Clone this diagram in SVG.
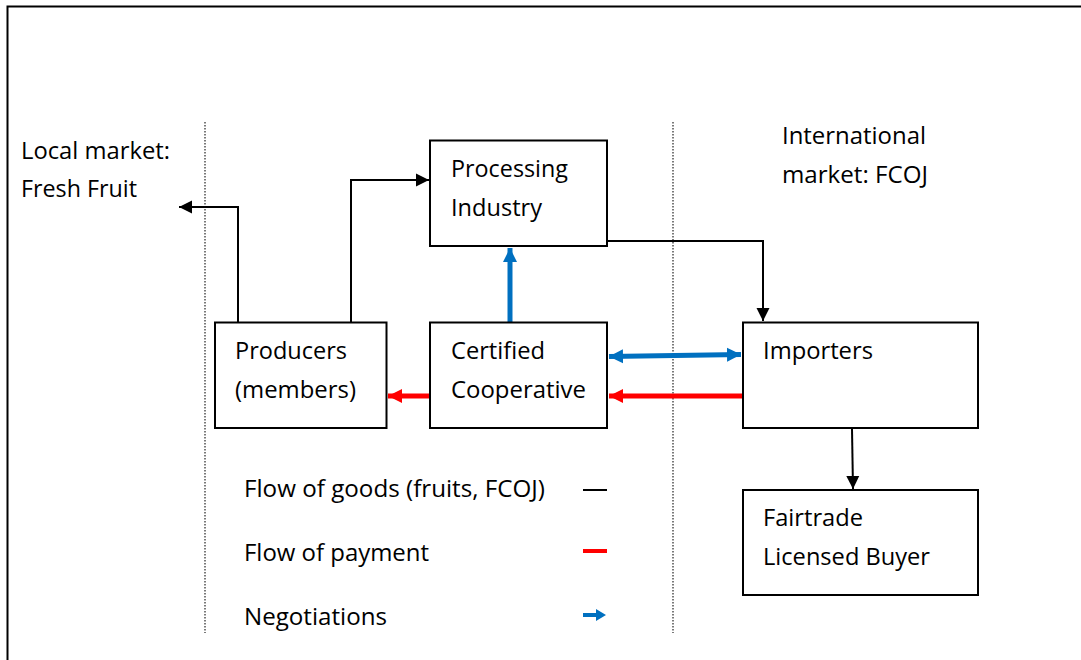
<svg xmlns="http://www.w3.org/2000/svg" width="1081" height="660" viewBox="0 0 1081 660">
<style>
text{font-family:"Open Sans","Noto Sans","DejaVu Sans",sans-serif;font-size:24.5px;fill:#000;}
.box{fill:#fff;stroke:#000;stroke-width:2;}
.dot{stroke:#333;stroke-width:1.3;stroke-dasharray:1.5,1.5;fill:none;}
.goods{stroke:#000;stroke-width:2;fill:none;}
.pay{stroke:#FF0000;stroke-width:5;fill:none;}
.neg{stroke:#0070C0;stroke-width:5;fill:none;}
</style>
<defs>
<marker id="ab" markerUnits="userSpaceOnUse" markerWidth="14" markerHeight="14" refX="13" refY="7" orient="auto"><path d="M0,0.5 L13,7 L0,13.5 z" fill="#000"/></marker>
<marker id="ar" markerUnits="userSpaceOnUse" markerWidth="15" markerHeight="16" refX="14" refY="8" orient="auto"><path d="M0,1 L14,8 L0,15 z" fill="#FF0000"/></marker>
<marker id="an" markerUnits="userSpaceOnUse" markerWidth="15" markerHeight="16" refX="14" refY="8" orient="auto-start-reverse"><path d="M0,1 L14,8 L0,15 z" fill="#0070C0"/></marker>
</defs>
<rect x="0" y="0" width="1081" height="660" fill="#fff"/>
<rect x="7.5" y="6.5" width="1100" height="700" fill="none" stroke="#000" stroke-width="2"/>
<g id="dividers">
<line class="dot" x1="205" y1="122" x2="205" y2="633"/>
<line class="dot" x1="673" y1="122" x2="673" y2="633"/>
</g>
<g id="labels">
<text x="21" y="159" textLength="149" lengthAdjust="spacingAndGlyphs">Local market:</text>
<text x="21" y="197" textLength="116" lengthAdjust="spacingAndGlyphs">Fresh Fruit</text>
<text x="782" y="144" textLength="144" lengthAdjust="spacingAndGlyphs">International</text>
<text x="782" y="183" textLength="146" lengthAdjust="spacingAndGlyphs">market: FCOJ</text>
</g>
<g id="connectors">
<polyline class="goods" points="238,322 238,207 179,207" marker-end="url(#ab)"/>
<polyline class="goods" points="351,322 351,180 429,180" marker-end="url(#ab)"/>
<polyline class="goods" points="607,241 763,241 763,321" marker-end="url(#ab)"/>
<line class="goods" x1="852" y1="429" x2="853" y2="489" marker-end="url(#ab)"/>
<line class="neg" x1="510" y1="322" x2="510" y2="248" marker-end="url(#an)"/>
<line class="neg" x1="609" y1="356.5" x2="741" y2="354.5" marker-start="url(#an)" marker-end="url(#an)"/>
<line class="pay" x1="742" y1="396" x2="609" y2="396" marker-end="url(#ar)"/>
<line class="pay" x1="430" y1="396" x2="388" y2="396" marker-end="url(#ar)"/>
</g>
<g id="processing">
<rect class="box" x="430" y="140.5" width="177" height="105.5"/>
<text x="451" y="177" textLength="117" lengthAdjust="spacingAndGlyphs">Processing</text>
<text x="451" y="216" textLength="91" lengthAdjust="spacingAndGlyphs">Industry</text>
</g>
<g id="producers">
<rect class="box" x="215" y="322.5" width="171.5" height="105.5"/>
<text x="235" y="359" textLength="112" lengthAdjust="spacingAndGlyphs">Producers</text>
<text x="235" y="398" textLength="121" lengthAdjust="spacingAndGlyphs">(members)</text>
</g>
<g id="cooperative">
<rect class="box" x="430" y="322.5" width="177" height="105.5"/>
<text x="451" y="359" textLength="94" lengthAdjust="spacingAndGlyphs">Certified</text>
<text x="451" y="398" textLength="135" lengthAdjust="spacingAndGlyphs">Cooperative</text>
</g>
<g id="importers">
<rect class="box" x="743" y="322.5" width="235" height="105.5"/>
<text x="763" y="359" textLength="110" lengthAdjust="spacingAndGlyphs">Importers</text>
</g>
<g id="buyer">
<rect class="box" x="743" y="490" width="235" height="105"/>
<text x="763" y="526" textLength="100" lengthAdjust="spacingAndGlyphs">Fairtrade</text>
<text x="763" y="565" textLength="167" lengthAdjust="spacingAndGlyphs">Licensed Buyer</text>
</g>
<g id="legend">
<text x="244" y="497" textLength="301" lengthAdjust="spacingAndGlyphs">Flow of goods (fruits, FCOJ)</text>
<text x="244" y="561" textLength="185" lengthAdjust="spacingAndGlyphs">Flow of payment</text>
<text x="244" y="625" textLength="143" lengthAdjust="spacingAndGlyphs">Negotiations</text>
<line x1="583" y1="490" x2="607" y2="490" stroke="#000" stroke-width="2"/>
<line x1="583" y1="551" x2="607" y2="551" stroke="#FF0000" stroke-width="4"/>
<path d="M583,613 L596,613 L596,609 L606,615 L596,621 L596,617 L583,617 z" fill="#0070C0"/>
</g>
</svg>
